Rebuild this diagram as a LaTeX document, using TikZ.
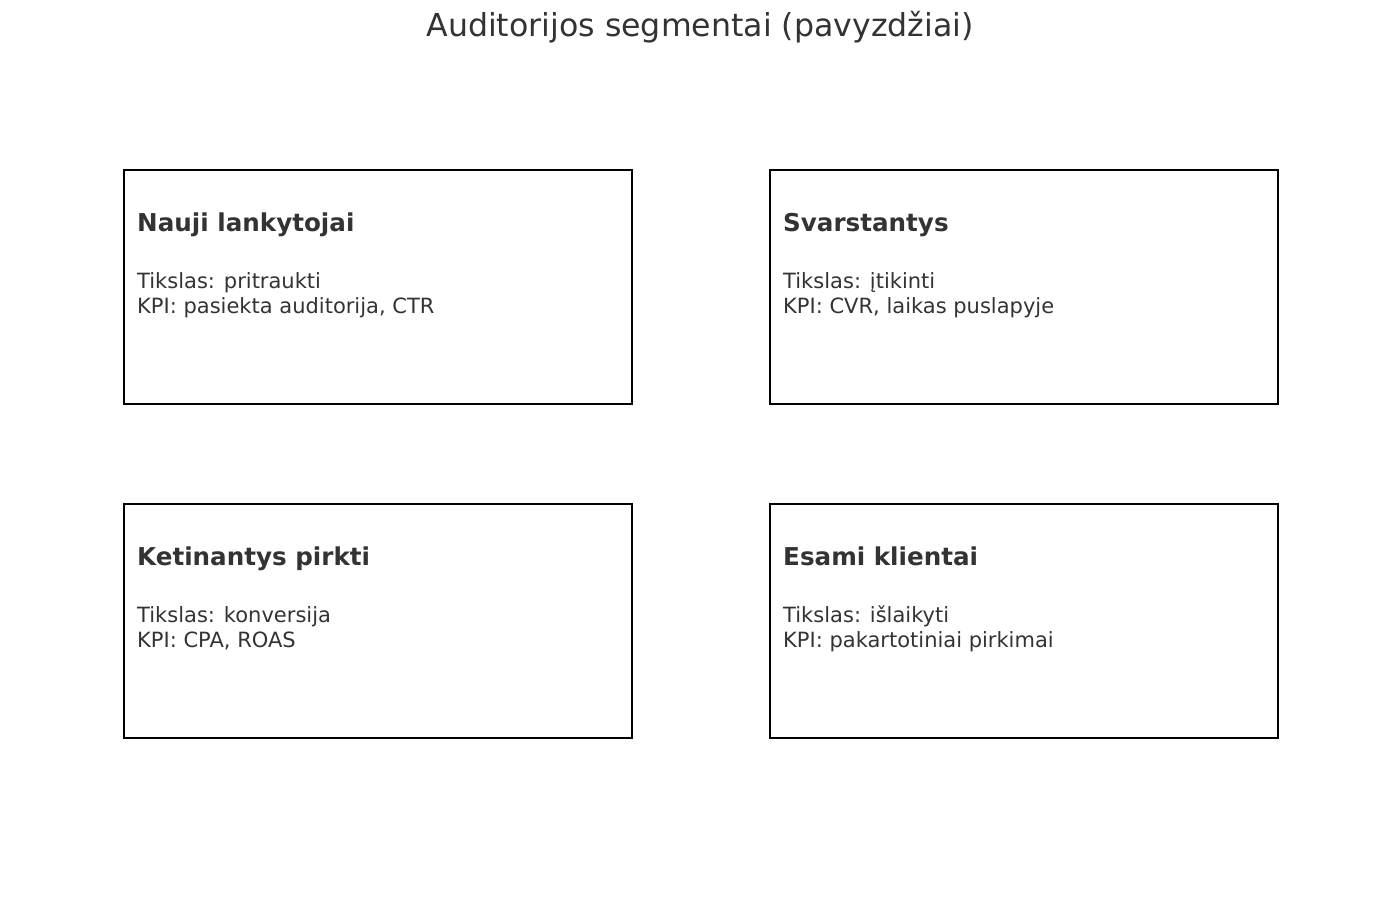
\documentclass[tikz,border=0pt]{standalone}
\usepackage{fontspec}
\setmainfont{DejaVu Sans}
\definecolor{txt}{HTML}{333333}
\begin{document}
\begin{tikzpicture}[x=1pt,y=-1pt,
  segbox/.style={draw=black,line width=1.7pt,minimum width=508pt,minimum height=234pt,anchor=north west,inner sep=0pt},
  head/.style={anchor=base west,inner sep=0pt,text=txt,font=\fontsize{24.6}{29}\selectfont\bfseries},
  body/.style={anchor=base west,inner sep=0pt,text=txt,font=\fontsize{21}{25}\selectfont},
  titl/.style={anchor=base,inner sep=0pt,text=txt,font=\fontsize{31.6}{38}\selectfont}]
\useasboundingbox (0,0) rectangle (1400,900);
\node[titl] (title) at (700,36) {Auditorijos segmentai (pavyzdžiai)};
\foreach \n/\x/\y/\h/\a/\b in {
  a/123/169/Nauji lankytojai/Tikslas: pritraukti/{KPI: pasiekta auditorija, CTR},
  b/769/169/Svarstantys/Tikslas: įtikinti/{KPI: CVR, laikas puslapyje},
  c/123/503/Ketinantys pirkti/Tikslas: konversija/{KPI: CPA, ROAS},
  d/769/503/Esami klientai/Tikslas: išlaikyti/{KPI: pakartotiniai pirkimai}}{
  \node[segbox] (box\n) at (\x,\y) {};
  \node[head] (head\n) at ([shift={(14,62)}]box\n.north west) {\h};
  \node[body] (goal\n) at ([shift={(14,119)}]box\n.north west) {\a};
  \node[body] (kpi\n) at ([shift={(14,144)}]box\n.north west) {\b};
}
\end{tikzpicture}
\end{document}
